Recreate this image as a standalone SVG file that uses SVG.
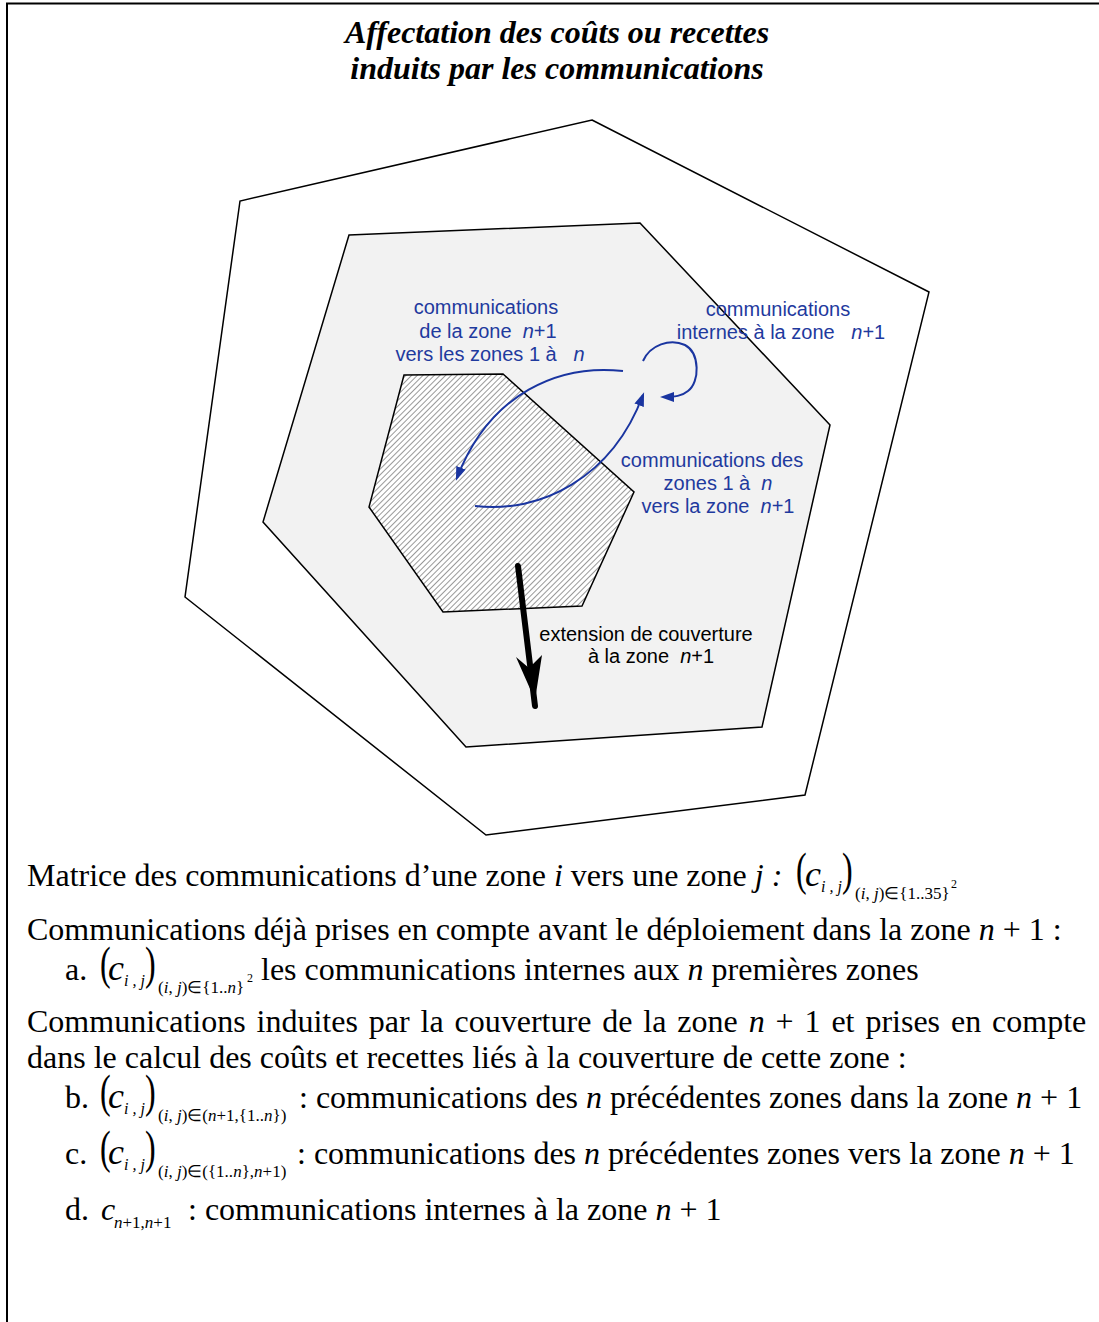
<svg xmlns="http://www.w3.org/2000/svg" width="1099" height="1322" viewBox="0 0 1099 1322">
<style>
.body{font-family:"Liberation Serif","Times New Roman",serif;font-size:32px;fill:#000}
.it{font-style:italic}
.c{font-family:"Liberation Serif","Times New Roman",serif;font-size:36px;font-style:italic;fill:#000}
.sub{font-family:"Liberation Serif","Times New Roman",serif;font-size:17px;fill:#000}
.sub2{font-family:"Liberation Serif","Times New Roman",serif;font-size:12px;fill:#000}
.subij{font-family:"Liberation Serif","Times New Roman",serif;font-size:16px;font-style:italic;fill:#000}
.paren{font-family:"Liberation Serif","Times New Roman",serif;font-size:32px;fill:#000}
.title{font-family:"Liberation Serif","Times New Roman",serif;font-size:32px;font-weight:bold;font-style:italic;text-anchor:middle;fill:#000}
.lbl{font-family:"Liberation Sans",Arial,sans-serif;font-size:20px;fill:#1f3a9e;text-anchor:middle}
.lblk{font-family:"Liberation Sans",Arial,sans-serif;font-size:20px;fill:#000;text-anchor:middle}
.zone{stroke:#000;stroke-width:1.5;stroke-linejoin:miter}
.flow{fill:none;stroke:#1a35a0;stroke-width:2}
</style>
<defs>
<pattern id="hatch" width="4" height="4" patternUnits="userSpaceOnUse" patternTransform="rotate(-45)">
<rect width="4" height="4" fill="#fff"/>
<line x1="0" y1="0" x2="4" y2="0" stroke="#000" stroke-width="0.8"/>
</pattern>
<marker id="ah" viewBox="0 0 14 10" refX="11" refY="5" markerWidth="14" markerHeight="10" markerUnits="userSpaceOnUse" orient="auto">
<path d="M0,0 L14,5 L0,10 z" fill="#1a35a0"/>
</marker>
</defs>
<rect width="1099" height="1322" fill="#fff"/>
<path d="M7,1322 V3.5 H1099" fill="none" stroke="#000" stroke-width="2"/>

<text class="title" x="557" y="43">Affectation des coûts ou recettes</text>
<text class="title" x="557" y="79">induits par les communications</text>

<g id="zone-outer"><polygon class="zone" points="592,120 929,292 805,795 486,835 185,597 240,201" fill="#fff"/></g>
<g id="zone-n1"><polygon class="zone" points="349,235 640,223 830,425 762,727 466,747 263,522" fill="#f2f2f2"/></g>
<g id="zones-1-n"><polygon class="zone" points="404,375 503,374 634,492 582,606 443,612 369,507" fill="url(#hatch)"/></g>

<g id="connectors">
<path class="flow" d="M623,371 C560,364 490,392 457,478" marker-end="url(#ah)"/>
<path class="flow" d="M475,506 C540,514 612,478 643,395" marker-end="url(#ah)"/>
<path class="flow" d="M643,361 C650,345 670,338 685,345 C700,353 700,382 688,391 C682,396 675,397 663,397" marker-end="url(#ah)"/>
<line x1="518" y1="566" x2="535" y2="706" stroke="#000" stroke-width="6" stroke-linecap="round"/>
<polygon points="516,657 529,668 542,655 535,700" fill="#000"/>
</g>

<g id="label-out">
<text class="lbl" x="486" y="314">communications</text>
<text class="lbl" x="488" y="338" xml:space="preserve">de la zone  <tspan class="it">n</tspan>+1</text>
<text class="lbl" x="490" y="361" xml:space="preserve">vers les zones 1 à   <tspan class="it">n</tspan></text>
</g>
<g id="label-internal">
<text class="lbl" x="778" y="316">communications</text>
<text class="lbl" x="781" y="339" xml:space="preserve">internes à la zone   <tspan class="it">n</tspan>+1</text>
</g>
<g id="label-in">
<text class="lbl" x="712" y="467">communications des</text>
<text class="lbl" x="718" y="490" xml:space="preserve">zones 1 à  <tspan class="it">n</tspan></text>
<text class="lbl" x="718" y="513" xml:space="preserve">vers la zone  <tspan class="it">n</tspan>+1</text>
</g>
<g id="label-ext">
<text class="lblk" x="646" y="641">extension de couverture</text>
<text class="lblk" x="651" y="663" xml:space="preserve">à la zone  <tspan class="it">n</tspan>+1</text>
</g>

<g id="legend">
<text class="body" x="27" y="886">Matrice des communications d’une zone <tspan class="it">i</tspan> vers une zone <tspan class="it">j :</tspan></text>
<text class="paren" transform="translate(796 884.5) scale(1 1.42)">(</text>
<text class="c" x="805" y="886">c</text>
<text class="subij" x="821" y="892" xml:space="preserve">i , j</text>
<text class="paren" transform="translate(842 884.5) scale(1 1.42)">)</text>
<text class="sub" x="855" y="899">(<tspan class="it">i</tspan>, <tspan class="it">j</tspan>)∈{1..35}</text>
<text class="sub2" x="951" y="888">2</text>

<text class="body" x="27" y="940">Communications déjà prises en compte avant le déploiement dans la zone <tspan class="it">n</tspan> + 1 :</text>

<text class="body" x="65" y="980">a.</text>
<text class="paren" transform="translate(100 978.5) scale(1 1.42)">(</text>
<text class="c" x="108" y="980">c</text>
<text class="subij" x="124" y="986" xml:space="preserve">i , j</text>
<text class="paren" transform="translate(145 978.5) scale(1 1.42)">)</text>
<text class="sub" x="158" y="993">(<tspan class="it">i</tspan>, <tspan class="it">j</tspan>)∈{1..<tspan class="it">n</tspan>}</text>
<text class="sub2" x="247" y="982">2</text>
<text class="body" x="261" y="980">les communications internes aux <tspan class="it">n</tspan> premières zones</text>

<text class="body" x="27" y="1032" word-spacing="2.9">Communications induites par la couverture de la zone <tspan class="it">n</tspan> + 1 et prises en compte</text>
<text class="body" x="27" y="1068">dans le calcul des coûts et recettes liés à la couverture de cette zone :</text>

<text class="body" x="65" y="1108">b.</text>
<text class="paren" transform="translate(100 1106.5) scale(1 1.42)">(</text>
<text class="c" x="108" y="1108">c</text>
<text class="subij" x="124" y="1114" xml:space="preserve">i , j</text>
<text class="paren" transform="translate(145 1106.5) scale(1 1.42)">)</text>
<text class="sub" x="158" y="1121">(<tspan class="it">i</tspan>, <tspan class="it">j</tspan>)∈(<tspan class="it">n</tspan>+1,{1..<tspan class="it">n</tspan>})</text>
<text class="body" x="299" y="1108">: communications des <tspan class="it">n</tspan> précédentes zones dans la zone <tspan class="it">n</tspan> + 1</text>

<text class="body" x="65" y="1164">c.</text>
<text class="paren" transform="translate(100 1162.5) scale(1 1.42)">(</text>
<text class="c" x="108" y="1164">c</text>
<text class="subij" x="124" y="1170" xml:space="preserve">i , j</text>
<text class="paren" transform="translate(145 1162.5) scale(1 1.42)">)</text>
<text class="sub" x="158" y="1177">(<tspan class="it">i</tspan>, <tspan class="it">j</tspan>)∈({1..<tspan class="it">n</tspan>},<tspan class="it">n</tspan>+1)</text>
<text class="body" x="297" y="1164">: communications des <tspan class="it">n</tspan> précédentes zones vers la zone <tspan class="it">n</tspan> + 1</text>

<text class="body" x="65" y="1220">d.</text>
<text class="body it" x="101" y="1220">c</text>
<text class="sub it" x="114" y="1228">n<tspan font-style="normal">+1,</tspan>n<tspan font-style="normal">+1</tspan></text>
<text class="body" x="188" y="1220">: communications internes à la zone <tspan class="it">n</tspan> + 1</text>
</g>
</svg>
